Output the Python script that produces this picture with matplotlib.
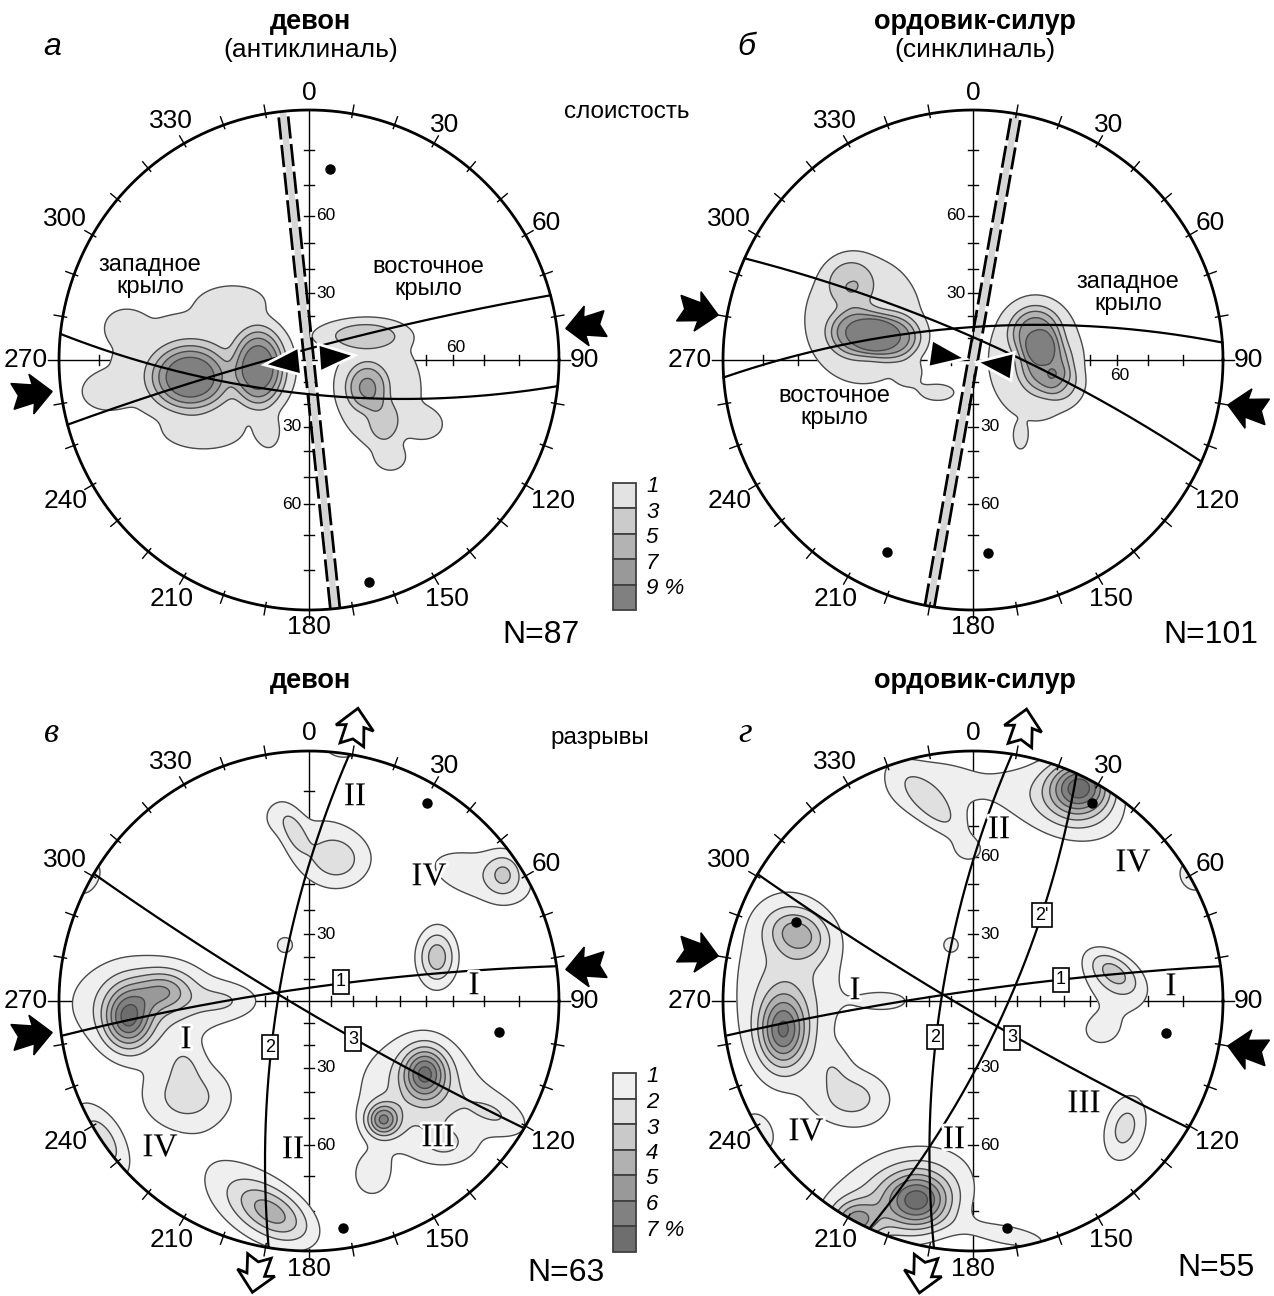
import numpy as np
import matplotlib
matplotlib.use("Agg")
import matplotlib.pyplot as plt
from matplotlib.patches import Circle, Polygon, Rectangle
import matplotlib.patheffects as pe

plt.rcParams['font.family'] = ['Liberation Sans', 'DejaVu Sans']

# ---------------- data ----------------
titles = ['девон', 'ордовик-силур', 'девон', 'ордовик-силур']
subtitles = ['(антиклиналь)', '(синклиналь)', None, None]
letters = ['а', 'б', 'в', 'г']
n_meas = [87, 101, 63, 55]
azimuths = [0, 30, 60, 90, 120, 150, 180, 210, 240, 270, 300, 330]

# density scales, %
bed_levels = [1, 3, 5, 7, 9]
bed_fills = ['#e3e3e3', '#cbcbcb', '#b3b3b3', '#999999', '#808080']
bed_legend = ['1', '3', '5', '7', '9 %']
flt_levels = [1, 2, 3, 4, 5, 6, 7]
flt_fills = ['#efefef', '#e0e0e0', '#c9c9c9', '#b1b1b1', '#999999', '#818181', '#6e6e6e']
flt_legend = ['1', '2', '3', '4', '5', '6', '7 %']

# pole density maxima: x, y (net radius = 1), spread x, spread y, tilt (deg), peak %
blobs_a = [
    (-0.44, -0.03, 0.32, 0.20, 0, 2.0),
    (-0.476, -0.07, 0.12, 0.10, 0, 9.0),
    (-0.20, -0.03, 0.08, 0.12, 0, 9.0),
    (-0.82, -0.13, 0.08, 0.06, 0, 1.4),
    (-0.30, 0.24, 0.12, 0.06, 0, 1.3),
    (-0.74, 0.14, 0.07, 0.06, 0, 1.2),
    (-0.42, -0.30, 0.14, 0.06, 0, 1.2),
    (-0.16, -0.30, 0.05, 0.07, 0, 1.1),
    (0.28, -0.12, 0.16, 0.21, 0, 1.8),
    (0.21, 0.10, 0.14, 0.05, 0, 3.2),
    (0.232, -0.11, 0.065, 0.075, 0, 5.5),
    (0.30, -0.25, 0.055, 0.075, 0, 2.5),
    (0.48, -0.26, 0.07, 0.06, 0, 1.1),
    (0.33, -0.40, 0.06, 0.05, 0, 1.0),
]
blobs_b = [
    (-0.44, 0.16, 0.21, 0.23, 0, 2.0),
    (-0.46, 0.11, 0.09, 0.075, 0, 7.5),
    (-0.33, 0.09, 0.09, 0.07, 0, 7.5),
    (-0.49, 0.31, 0.075, 0.075, 0, 3.3),
    (-0.14, -0.13, 0.07, 0.035, 0, 1.4),
    (-0.25, -0.06, 0.05, 0.05, 0, 0.9),
    (0.25, 0.0, 0.17, 0.22, 0, 2.0),
    (0.25, 0.11, 0.08, 0.08, 0, 6.5),
    (0.29, -0.02, 0.08, 0.09, 0, 6.5),
    (0.36, -0.10, 0.06, 0.06, 0, 2.0),
    (0.19, -0.31, 0.025, 0.045, 0, 1.4),
]
blobs_v = [
    (0.14, 1.03, 0.07, 0.05, 0, 1.8),
    (-0.06, 0.68, 0.035, 0.07, 20, 1.6),
    (0.12, 0.56, 0.09, 0.08, 0, 2.0),
    (0.03, 0.64, 0.12, 0.12, 0, 1.0),
    (-0.14, 0.74, 0.05, 0.06, 0, 0.9),
    (0.68, 0.50, 0.20, 0.09, -16, 1.5),
    (0.78, 0.51, 0.05, 0.06, 0, 2.1),
    (-0.096, 0.224, 0.035, 0.035, 0, 1.4),
    (0.512, 0.176, 0.055, 0.08, 0, 3.6),
    (-0.724, -0.07, 0.065, 0.085, 0, 5.5),
    (-0.58, 0.04, 0.075, 0.055, 0, 3.0),
    (-0.66, -0.01, 0.22, 0.14, 0, 2.3),
    (-0.33, 0.0, 0.10, 0.05, 0, 1.4),
    (-0.486, -0.386, 0.13, 0.095, 0, 2.4),
    (-0.50, -0.25, 0.05, 0.06, 0, 1.0),
    (-0.83, -0.56, 0.06, 0.12, 31, 2.6),
    (-0.88, 0.49, 0.04, 0.07, -29, 1.5),
    (-0.14, -0.85, 0.11, 0.06, -30, 3.0),
    (-0.23, -0.80, 0.19, 0.10, -37, 1.8),
    (0.464, -0.288, 0.06, 0.07, 0, 5.5),
    (0.296, -0.476, 0.045, 0.045, 0, 5.0),
    (0.45, -0.38, 0.19, 0.17, -25, 2.3),
    (0.76, -0.46, 0.10, 0.055, -25, 1.5),
    (0.25, -0.70, 0.06, 0.07, 0, 1.5),
    (0.55, -0.58, 0.08, 0.05, 0, 1.2),
]
blobs_g = [
    (-0.16, 0.78, 0.13, 0.045, -46, 1.7),
    (-0.17, 0.86, 0.20, 0.12, 0, 1.3),
    (-0.02, 0.60, 0.05, 0.04, 0, 1.1),
    (0.43, 0.86, 0.085, 0.075, 0, 6.5),
    (0.36, 0.78, 0.18, 0.10, -20, 2.0),
    (0.88, 0.50, 0.05, 0.06, 29, 1.6),
    (-0.088, 0.224, 0.035, 0.035, 0, 1.4),
    (-0.76, -0.12, 0.065, 0.10, 0, 5.5),
    (-0.70, 0.27, 0.085, 0.065, -20, 3.2),
    (-0.74, 0.06, 0.16, 0.27, 0, 2.2),
    (-0.35, 0.0, 0.09, 0.035, 0, 1.4),
    (-0.48, -0.39, 0.11, 0.08, 0, 2.3),
    (-0.56, -0.26, 0.05, 0.06, 0, 0.9),
    (0.56, 0.12, 0.08, 0.045, -35, 2.4),
    (0.57, 0.05, 0.12, 0.09, -40, 1.4),
    (0.51, -0.12, 0.06, 0.05, 0, 1.4),
    (0.608, -0.508, 0.06, 0.10, -15, 2.4),
    (-0.86, -0.53, 0.05, 0.07, 30, 1.5),
    (-0.22, -0.80, 0.09, 0.075, 0, 5.5),
    (-0.47, -0.88, 0.065, 0.055, 0, 4.0),
    (-0.30, -0.78, 0.22, 0.13, 20, 2.4),
    (0.15, -0.94, 0.15, 0.04, -10, 1.4),
]
# flatness of the density maxima (1 = gaussian)
flat = [1.6, 1.6, 1.0, 1.0]

# great circles: dip direction, dip (deg)
gc_a = [(186, 74.5), (345, 85)]
gc_b = [(24, 80.4), (356, 75)]
gc_v = [(352, 84), (279.3, 75.9), (210.6, 85.4)]
gc_g = [(352, 85.3), (279, 75.6), (114.5, 75.1), (210.5, 85.5)]
# vertical axial planes: strike (deg)
axial = [354, 10, None, None]
# black dots: trend, plunge (deg)
dots_a = [(6.4, 14.9), (164.9, 4.8)]
dots_b = [(204.1, 9.8), (175.6, 14.5)]
dots_v = [(30.7, 4.7), (99.3, 14.8), (171.5, 4.9)]
dots_g = [(31.0, 4.5), (294.1, 14.4), (99.4, 13.9), (171.6, 4.9)]
# compression (black) and extension (open) arrows: azimuth (deg)
comp = [[83, 263], [100, 280], [83, 263], [100, 280]]
ext = [[], [], [9.5, 191], [10.4, 190.4]]
# limb arrows: x, y, azimuth
limbs = [[(-0.036, -0.004, 264), (0.04, 0.008, 86)],
         [(-0.172, 0.026, 98), (0.158, -0.026, 277)], [], []]

# ---------------- layout (pixels) ----------------
W, H = 1274, 1296
R = 250.0
centres = [(309, 360), (973, 360), (309, 1001), (973, 1001)]
letter_pos = [(52, 55), (746, 55), (52, 742), (745, 742)]
n_pos = [(541, 635), (1211, 635), (566, 1273), (1216, 1268)]
title_y = [22, 22, 681, 681]
dip_sides = [('right', 'left', 'above'), ('left', 'right', 'below'),
             ('right', 'right', None), ('right', 'right', None)]
wings = [[('западное\nкрыло', 150, 276), ('восточное\nкрыло', 428, 278)],
         [('восточное\nкрыло', 834, 407), ('западное\nкрыло', 1128, 293)], [], []]
romans = [[], [],
          [('II', 355, 797), ('IV', 429, 877), ('I', 186, 1040), ('I', 474, 986),
           ('IV', 160, 1148), ('II', 293, 1150), ('III', 438, 1138)],
          [('II', 999, 830), ('IV', 1133, 863), ('I', 855, 991), ('I', 1171, 987),
           ('III', 1084, 1104), ('IV', 806, 1132), ('II', 954, 1140)]]
boxes = [[], [],
         [('1', 341, 982), ('2', 270, 1047), ('3', 353, 1039)],
         [('1', 1061, 980), ('2', 935, 1037), ('3', 1012, 1038), ("2'", 1042, 915)]]

BLACK = [(0, 0), (21, 20), (19, 9), (40, 13), (34, 0), (40, -13), (19, -9), (21, -20)]
OPEN = [(0, 0), (20, 19), (18, 9), (37, 12), (31, 0), (37, -12), (18, -9), (20, -19)]


def project(trend, plunge):
    t = np.radians(trend)
    r = np.tan(np.radians(90.0 - plunge) / 2.0)
    return r * np.sin(t), r * np.cos(t)


def great_circle(ddir, dip, n=181):
    a, d = np.radians(ddir), np.radians(dip)
    strike = np.array([np.sin(a - np.pi / 2), np.cos(a - np.pi / 2), 0.0])
    down = np.array([np.cos(d) * np.sin(a), np.cos(d) * np.cos(a), np.sin(d)])
    th = np.linspace(0, np.pi, n)[:, None]
    v = np.cos(th) * strike + np.sin(th) * down
    return v[:, 0] / (1 + v[:, 2]), v[:, 1] / (1 + v[:, 2])


def density(blobs, X, Y, k=1.0):
    Z = np.zeros_like(X)
    for x0, y0, sx, sy, tilt, peak in blobs:
        t = np.radians(tilt)
        dx, dy = X - x0, Y - y0
        xr = dx * np.cos(t) + dy * np.sin(t)
        yr = -dx * np.sin(t) + dy * np.cos(t)
        q = (xr / sx) ** 2 + (yr / sy) ** 2
        Z += peak * np.exp(-0.5 * q ** k)
    return Z


def arrow_poly(az, r_tip, inward, shape):
    out = np.array([np.sin(np.radians(az)), np.cos(np.radians(az))])
    side = np.array([out[1], -out[0]])
    back = out if inward else -out
    tip = r_tip * out
    return [tip + (u * back + w * side) / R for u, w in shape]


def fx(x):
    return x / W


def fy(y):
    return 1 - y / H


fig = plt.figure(figsize=(W / 100, H / 100), dpi=100)
fig.patch.set_facecolor('white')

all_blobs = [blobs_a, blobs_b, blobs_v, blobs_g]
all_gc = [gc_a, gc_b, gc_v, gc_g]
all_dots = [dots_a, dots_b, dots_v, dots_g]

g = np.linspace(-1.03, 1.03, 521)
X, Y = np.meshgrid(g, g)

for i in range(4):
    cx, cy = centres[i]
    half = 330
    ax = fig.add_axes([fx(cx - half), fy(cy + half), 2 * half / W, 2 * half / H])
    ax.set_xlim(-half / R, half / R)
    ax.set_ylim(-half / R, half / R)
    ax.axis('off')

    # diameters with dip ticks
    ax.plot([-1.045, 1.045], [0, 0], color='black', lw=1.0, zorder=1)
    ax.plot([0, 0], [1.0, -1.03], color='black', lw=1.0, zorder=1)
    for d in range(10, 90, 10):
        r = np.tan(np.radians(d) / 2)
        for s in (1, -1):
            ax.plot([s * r, s * r], [-0.02, 0.02], color='black', lw=1.0, zorder=1)
            ax.plot([-0.02, 0.02], [s * r, s * r], color='black', lw=1.0, zorder=1)
    up, down, east = dip_sides[i]
    for d in (30, 60):
        r = np.tan(np.radians(d) / 2)
        off = 0.03 if up == 'right' else -0.03
        ax.text(off, r, str(d), fontsize=12.5, ha='left' if up == 'right' else 'right',
                va='center', zorder=1)
        off = 0.03 if down == 'right' else -0.03
        ax.text(off, -r, str(d), fontsize=12.5, ha='left' if down == 'right' else 'right',
                va='center', zorder=1)
    if east:
        r = np.tan(np.radians(60) / 2)
        ax.text(r + 0.01, 0.05 if east == 'above' else -0.06, '60', fontsize=12.5,
                ha='center', va='center', zorder=1)

    # density contours
    Z = density(all_blobs[i], X, Y, flat[i])
    lev, fills = (bed_levels, bed_fills) if i < 2 else (flt_levels, flt_fills)
    clip = Circle((0, 0), 1.0, transform=ax.transData)
    cf = ax.contourf(X, Y, Z, levels=lev + [1000], colors=fills, zorder=2)
    cf.set_clip_path(clip)
    cl = ax.contour(X, Y, Z, levels=lev, colors='#4a4a4a', linewidths=1.0, zorder=3)
    cl.set_clip_path(clip)

    # axial plane trace
    if axial[i] is not None:
        a = np.radians(axial[i])
        dv = np.array([np.sin(a), np.cos(a)])
        nv = np.array([np.cos(a), -np.sin(a)])
        ax.plot([-dv[0], dv[0]], [-dv[1], dv[1]], color='#d6d6d6', lw=4.5,
                solid_capstyle='butt', zorder=4)
        for s in (1, -1):
            p0 = -dv + s * 0.019 * nv
            p1 = dv + s * 0.019 * nv
            ax.plot([p0[0], p1[0]], [p0[1], p1[1]], color='black', lw=2.0,
                    linestyle=(0, (8, 2)), zorder=4)

    # great circles
    for ddir, dip in all_gc[i]:
        gx, gy = great_circle(ddir, dip)
        ax.plot(gx, gy, color='black', lw=1.6, zorder=4)

    # primitive and azimuth ticks
    t = np.linspace(0, 2 * np.pi, 400)
    ax.plot(np.cos(t), np.sin(t), color='black', lw=2.0, zorder=5)
    for az in range(10, 360, 10):
        if az % 90 == 0:
            continue
        s, c = np.sin(np.radians(az)), np.cos(np.radians(az))
        ax.plot([0.985 * s, 1.035 * s], [0.985 * c, 1.035 * c], color='black', lw=1.0, zorder=5)
    for az in azimuths:
        lab = str(az)
        s, c = np.sin(np.radians(az)), np.cos(np.radians(az))
        r = 1.07 + 0.032 * (len(lab) - 1) * abs(s)
        ax.text(r * s, r * c, lab, fontsize=19, ha='center', va='center', zorder=5)

    # dots
    for tr, pl in all_dots[i]:
        px, py = project(tr, pl)
        ax.plot(px, py, 'o', color='black', ms=6.5, zorder=6)

    # limb arrows
    for x0, y0, az in limbs[i]:
        u = np.array([np.sin(np.radians(az)), np.cos(np.radians(az))])
        nv = np.array([u[1], -u[0]])
        base = np.array([x0, y0])
        pts = [base + 36 / R * u, base + 14 / R * nv, base - 14 / R * nv]
        ax.add_patch(Polygon(pts, closed=True, fc='black', ec='white', lw=2.0,
                             joinstyle='miter', zorder=7))

    # compression / extension arrows
    for az in comp[i]:
        ax.add_patch(Polygon(arrow_poly(az, 1.035, True, BLACK), closed=True,
                             fc='black', ec='black', lw=1.0, clip_on=False, zorder=5))
    for az in ext[i]:
        ax.add_patch(Polygon(arrow_poly(az, 1.035 + 38 / R, False, OPEN), closed=True,
                             fc='white', ec='black', lw=2.0, clip_on=False, zorder=5))

    # roman numerals and plane numbers
    for txt, x, y in romans[i]:
        ax.text((x - cx) / R, (cy - y) / R, txt, fontsize=24, family='Liberation Serif',
                ha='center', va='center', zorder=8,
                path_effects=[pe.withStroke(linewidth=4, foreground='white')])
    for txt, x, y in boxes[i]:
        ax.text((x - cx) / R, (cy - y) / R, txt, fontsize=13, ha='center', va='center',
                zorder=8, bbox=dict(boxstyle='square,pad=0.18', fc='white', ec='black', lw=1.2))

    # wing labels
    for txt, x, y in wings[i]:
        fig.text(fx(x), fy(y), txt, fontsize=17, ha='center', va='center', linespacing=0.95)

    # titles, letters, N
    fig.text(fx(cx + 2), fy(title_y[i]), titles[i], fontsize=19.5, fontweight='bold',
             ha='center', va='center')
    if subtitles[i]:
        fig.text(fx(cx + 2), fy(50), subtitles[i], fontsize=19, ha='center', va='center')
    lx, ly = letter_pos[i]
    if i < 2:
        fig.text(fx(lx), fy(ly), letters[i], fontsize=23, style='italic',
                 ha='center', va='baseline')
    else:
        fig.text(fx(lx), fy(ly), letters[i], fontsize=25, style='italic',
                 family=['Liberation Serif', 'DejaVu Serif'], ha='center', va='baseline')
    nx, ny = n_pos[i]
    fig.text(fx(nx), fy(ny), 'N=%d' % n_meas[i], fontsize=23, ha='center', va='center')

fig.text(fx(627), fy(112), 'слоистость', fontsize=17.5, ha='center', va='center')
fig.text(fx(600), fy(738), 'разрывы', fontsize=17.5, ha='center', va='center')

# legends
for top, bh, labels, cols in [(483, 25.4, bed_legend, bed_fills),
                              (1073, 25.5, flt_legend, flt_fills)]:
    for k, (lab, col) in enumerate(zip(labels, cols)):
        y0 = top + k * bh
        fig.add_artist(Rectangle((fx(613), fy(y0 + bh)), 23 / W, bh / H,
                                 transform=fig.transFigure, fc=col, ec='#404040', lw=1.3))
        fig.text(fx(646), fy(y0 + 4), lab, fontsize=16, style='italic', ha='left', va='center')

fig.savefig('out.png', dpi=100, facecolor='white')
